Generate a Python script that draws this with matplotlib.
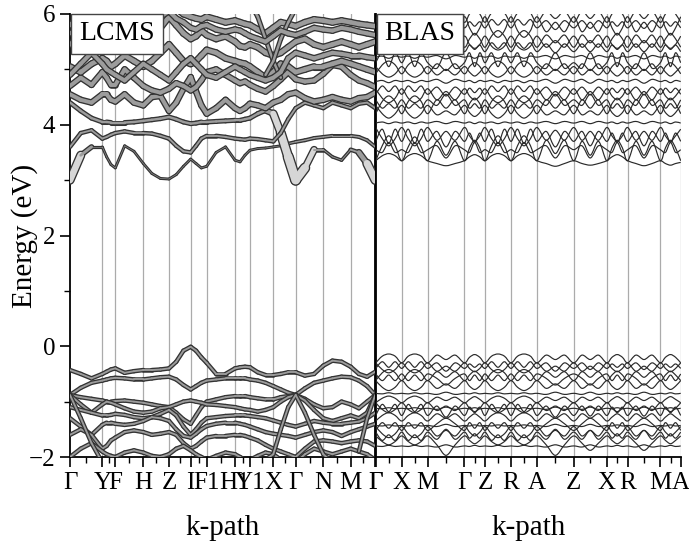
import numpy as np
import matplotlib
matplotlib.use("Agg")
import matplotlib.pyplot as plt
from matplotlib.collections import LineCollection
from matplotlib.path import Path
from matplotlib.patches import PathPatch
from matplotlib.ticker import FixedLocator, MultipleLocator

plt.rcParams['font.family'] = ['Liberation Serif', 'DejaVu Serif']

nan = np.nan

# ---------------- high-symmetry paths ----------------
lcms_nodes = [0, 32.3, 45.3, 73.3, 99, 120.7, 136.7, 165, 180, 203.3, 225.7, 253.3, 280.7, 305.3]
lcms_labels = ['Γ', 'Y', 'F', 'H', 'Z', 'I', 'F1', 'H1', 'Y1', 'X', 'Γ', 'N', 'M', 'Γ']
blas_nodes = [0, 26, 52, 88.6, 109.3, 135.3, 161.3, 198, 231, 252, 284.6, 305]
blas_labels = ['Γ', 'X', 'M', 'Γ', 'Z', 'R', 'A', 'Z', 'X', 'R', 'M', 'A']

# ---------------- LCMS bands (3 samples per segment, 40 points) ----------------
lcms_c1 = [3.00, 3.45, 3.60, 3.60, 3.42, 3.28, 3.22, 3.62, 3.52, 3.30,
           3.12, 3.03, 3.02, 3.10, 3.25, 3.38, 3.30, 3.22, 3.25, 3.50,
           3.60, 3.36, 3.33, 3.45, 3.54, 3.57, 3.58, 3.60, 3.62, 3.66,
           3.69, 3.72, 3.76, 3.78, 3.80, 3.80, 3.80, 3.78, 3.72, 3.60]
lcms_c1_w = [9, 6, 2, 1.5, 1.5, 1.5, 1.5, 1.5, 1.5, 1.5,
             1.5, 1.5, 1.5, 1.5, 1.5, 1.5, 1.5, 1.5, 1.5, 1.5,
             1.5, 1.5, 1.5, 1.5, 1.5, 1.5, 1.5, 1.5, 1.5, 2,
             2.5, 2.5, 2.5, 2.5, 2.5, 2.5, 2.5, 2.5, 2.5, 2.5]
lcms_c2 = [4.40, 4.25, 4.12, 4.05, 4.05, 4.04, 4.04, 4.04, 4.05, 4.07,
           4.09, 4.11, 4.14, 4.10, 4.05, 4.02, 4.03, 4.05, 4.05, 4.06,
           4.07, 4.08, 4.08, 4.10, 4.12, 4.20, 4.26, 4.20, 3.85, 3.42,
           3.00, 3.22, 3.55, 3.55, 3.42, 3.36, 3.55, 3.50, 3.30, 3.00]
lcms_c2_w = [3.5, 3.5, 3.5, 3.5, 3.5, 3.5, 3.5, 3.5, 3.5, 3.5,
             3.5, 3.5, 3.5, 3.5, 3.5, 3.5, 3.5, 3.5, 3.5, 3.5,
             3.5, 3.5, 3.5, 3.5, 3.5, 3.5, 4, 6, 8, 9,
             10, 8, 4, 2, 2, 2, 2, 4, 7, 9]
lcms_c3 = [3.60, 3.85, 3.90, 3.75, 3.78, 3.82, 3.85, 3.88, 3.85, 3.85,
           3.84, 3.80, 3.75, 3.62, 3.52, 3.50, 3.62, 3.75, 3.80, 3.80,
           3.78, 3.75, 3.74, 3.73, 3.75, 3.74, 3.72, 3.70, 3.85, 4.10,
           4.30, 4.40, 4.35, 4.30, 4.40, 4.35, 4.30, 4.38, 4.40, 4.30]
lcms_c4 = [4.55, 4.45, 4.40, 4.55, 4.55, 4.45, 4.42, 4.55, 4.40, 4.35,
           4.50, 4.52, 4.25, 4.40, 4.65, 4.86, 4.60, 4.35, 4.20, 4.30,
           4.45, 4.30, 4.25, 4.30, 4.38, 4.35, 4.30, 4.40, 4.45, 4.55,
           4.58, 4.48, 4.42, 4.45, 4.50, 4.45, 4.42, 4.48, 4.50, 4.58]
lcms_c5 = [4.70, 4.85, 4.72, 4.95, 4.85, 4.72, 4.72, 5.00, 4.85, 4.70,
           4.62, 4.58, 4.65, 4.75, 4.70, 4.62, 4.68, 4.80, 4.95, 5.00,
           4.90, 4.80, 4.75, 4.78, 4.72, 4.65, 4.60, 4.70, 4.82, 4.95,
           4.82, 4.78, 4.80, 4.92, 5.08, 5.05, 4.90, 4.80, 4.75, 4.68]
lcms_c6 = [5.05, 4.95, 5.10, 5.20, 5.15, 5.05, 5.10, 5.25, 5.15, 5.05,
           5.15, 5.30, 5.45, 5.30, 5.15, 5.10, 5.15, 5.25, 5.35, 5.30,
           5.20, 5.15, 5.12, 5.10, 5.05, 4.95, 4.85, 4.95, 5.10, 5.05,
           4.95, 5.00, 5.05, 5.05, 5.10, 5.15, 5.10, 5.05, 5.00, 4.95]
lcms_c7 = [5.45, 5.60, 5.45, 5.35, 5.45, 5.55, 5.50, 5.60, 5.50, 5.40,
           5.55, 5.75, 5.95, 5.80, 5.65, 5.55, 5.60, 5.70, 5.62, 5.55,
           5.60, 5.50, 5.42, 5.40, 5.45, 5.40, 5.30, 5.25, 5.30, 5.40,
           5.50, 5.55, 5.45, 5.40, 5.45, 5.50, 5.45, 5.40, 5.45, 5.50]
lcms_c8 = [5.80, 5.95, 6.05, 5.90, 5.85, 5.90, 5.95, 5.90, 5.85, 5.90,
           6.00, 6.10, 6.20, 6.10, 6.00, 5.95, 5.92, 5.90, 5.95, 5.90,
           5.85, 5.88, 5.85, 5.82, 5.80, 5.72, 5.65, 5.75, 5.85, 5.82,
           5.78, 5.85, 5.90, 5.88, 5.85, 5.88, 5.85, 5.82, 5.80, 5.78]
lcms_c9 = [nan, nan, nan, nan, nan, nan, nan, nan, nan, nan,
           nan, nan, nan, nan, nan, nan, nan, nan, nan, nan,
           nan, nan, nan, nan, 6.20, 5.95, 5.55, 5.15, 4.85, nan,
           nan, nan, nan, nan, nan, nan, nan, nan, nan, nan]
lcms_c10 = [nan, nan, nan, nan, nan, nan, nan, nan, nan, nan,
            nan, nan, nan, nan, nan, nan, nan, nan, nan, nan,
            nan, nan, nan, nan, nan, nan, 4.90, 5.15, 5.55, 5.85,
            6.10, nan, nan, nan, nan, nan, nan, nan, nan, nan]
lcms_c11 = [4.90, 5.10, 5.30, 5.10, 5.00, 4.95, 4.90, 4.80, 4.95, 5.10,
            5.00, 4.90, 4.80, 4.95, 5.10, 5.20, 5.10, 5.00, 4.90, 4.85,
            4.95, 5.05, 5.00, 4.95, 4.90, 4.85, 4.80, 4.85, 4.95, 5.20,
            5.30, 5.25, 5.20, 5.25, 5.30, 5.28, 5.25, 5.25, 5.22, 5.20]
lcms_c12 = [5.65, 5.75, 5.85, 5.70, 5.65, 5.72, 5.80, 5.75, 5.65, 5.70,
            5.85, 5.95, 6.05, 5.92, 5.85, 5.75, 5.72, 5.78, 5.80, 5.72,
            5.68, 5.72, 5.70, 5.65, 5.60, 5.55, 5.50, 5.60, 5.70, 5.65,
            5.62, 5.68, 5.75, 5.72, 5.70, 5.75, 5.72, 5.68, 5.65, 5.62]

lcms_v1 = [-0.43, -0.50, -0.58, -0.50, -0.46, -0.42, -0.40, -0.48, -0.45, -0.43,
           -0.43, -0.42, -0.40, -0.28, -0.08, -0.01, -0.08, -0.20, -0.30, -0.50,
           -0.50, -0.40, -0.38, -0.37, -0.38, -0.47, -0.52, -0.52, -0.50, -0.47,
           -0.47, -0.53, -0.50, -0.35, -0.26, -0.28, -0.37, -0.50, -0.55, -0.46]
lcms_v2 = [-0.88, -0.75, -0.66, -0.62, -0.60, -0.58, -0.57, -0.58, -0.60, -0.60,
           -0.58, -0.56, -0.55, -0.60, -0.70, -0.78, -0.72, -0.66, -0.62, -0.60,
           -0.58, -0.58, -0.58, -0.58, -0.60, -0.62, -0.66, -0.72, -0.78, -0.84,
           -0.88, -0.76, -0.66, -0.62, -0.58, -0.55, -0.56, -0.62, -0.72, -0.88]
lcms_v3 = [-0.88, -0.92, -0.95, -0.98, -1.00, -1.00, -0.99, -0.98, -1.00, -1.02,
           -1.05, -1.08, -1.10, -1.20, -1.32, -1.40, -1.25, -1.10, -1.00, -0.96,
           -0.92, -0.90, -0.90, -0.90, -0.92, -0.94, -0.96, -0.96, -0.92, -0.90,
           -0.88, -0.95, -1.05, -1.12, -1.10, -1.00, -1.05, -1.12, -1.00, -0.88]
lcms_v4 = [-0.88, -1.05, -1.20, -1.05, -1.00, -1.02, -1.05, -1.12, -1.18, -1.20,
           -1.18, -1.12, -1.10, -1.05, -1.00, -0.98, -1.00, -1.02, -1.05, -1.06,
           -1.08, -1.10, -1.12, -1.14, -1.15, -1.18, -1.15, -1.10, -1.00, -0.92,
           -0.88, -0.98, -1.15, -1.30, -1.35, -1.30, -1.25, -1.30, -1.20, -0.88]
lcms_v5 = [-1.10, -1.15, -1.20, -1.25, -1.25, -1.24, -1.22, -1.24, -1.28, -1.30,
           -1.28, -1.22, -1.15, -1.25, -1.45, -1.60, -1.50, -1.38, -1.30, -1.28,
           -1.26, -1.25, -1.25, -1.25, -1.26, -1.28, -1.30, -1.34, -1.38, -1.42,
           -1.45, -1.40, -1.35, -1.38, -1.40, -1.40, -1.38, -1.36, -1.30, -1.20]
lcms_v6 = [-1.30, -1.45, -1.60, -1.42, -1.38, -1.38, -1.40, -1.42, -1.40, -1.35,
           -1.28, -1.30, -1.35, -1.50, -1.62, -1.65, -1.58, -1.50, -1.44, -1.40,
           -1.38, -1.38, -1.40, -1.42, -1.45, -1.50, -1.55, -1.58, -1.60, -1.62,
           -1.65, -1.60, -1.55, -1.52, -1.55, -1.62, -1.55, -1.50, -1.45, -1.40]
lcms_v7 = [-1.60, -1.50, -1.60, -1.85, -1.80, -1.70, -1.65, -1.55, -1.52, -1.55,
           -1.60, -1.58, -1.55, -1.60, -1.75, -1.85, -1.80, -1.72, -1.65, -1.62,
           -1.62, -1.60, -1.60, -1.62, -1.65, -1.70, -1.78, -1.85, -1.90, -1.95,
           -2.00, -1.85, -1.72, -1.70, -1.72, -1.75, -1.72, -1.70, -1.72, -1.80]
lcms_v8 = [-2.00, -1.85, -1.75, -1.90, -1.95, -1.98, -2.00, -1.92, -1.88, -1.92,
           -1.98, -2.00, -1.95, -1.85, -1.80, -1.88, -1.95, -2.00, -2.05, -1.98,
           -1.92, -1.95, -2.00, -2.05, -2.05, -1.98, -1.92, -1.95, -2.05, -2.10,
           -2.10, -1.95, -1.85, -1.90, -1.95, -1.90, -1.85, -1.90, -1.95, -2.05]
lcms_v9 = [-0.88, -1.30, -1.75, -2.10, nan, nan, nan, nan, nan, nan,
           nan, nan, nan, nan, nan, nan, nan, nan, nan, nan,
           nan, nan, nan, nan, nan, -2.20, -2.05, -1.95, -1.50, -1.10,
           -0.88, -1.20, -1.60, -1.95, -2.10, nan, nan, -1.90, -1.30, -0.88]

lcms_bands = [
    (lcms_c1, lcms_c1_w), (lcms_c2, lcms_c2_w), (lcms_c3, 3), (lcms_c4, 5),
    (lcms_c5, 5), (lcms_c6, 5.5), (lcms_c7, 5.5), (lcms_c8, 5.5), (lcms_c9, 3.5),
    (lcms_c10, 3.5), (lcms_c11, 5), (lcms_c12, 5),
    (lcms_v1, 3), (lcms_v2, 3), (lcms_v3, 3), (lcms_v4, 3), (lcms_v5, 3),
    (lcms_v6, 3), (lcms_v7, 3), (lcms_v8, 3), (lcms_v9, 3),
]

# ---------------- BLAS bands (4 samples per segment, 45 points) ----------------
blas_c = [
    [3.35, 3.62, 3.80, 3.62, 3.35, 3.60, 3.78, 3.60, 3.35, 3.70, 3.45, 3.70, 3.35,
     3.58, 3.72, 3.58, 3.35, 3.62, 3.80, 3.62, 3.35, 3.62, 3.80, 3.62, 3.35,
     3.72, 3.48, 3.72, 3.35, 3.70, 3.45, 3.70, 3.35, 3.58, 3.72, 3.58, 3.35,
     3.70, 3.45, 3.70, 3.35, 3.58, 3.72, 3.58, 3.35],
    [3.35, 3.44, 3.48, 3.44, 3.35, 3.44, 3.48, 3.44, 3.35, 3.30, 3.26, 3.30, 3.35,
     3.42, 3.46, 3.42, 3.35, 3.44, 3.48, 3.44, 3.35, 3.44, 3.48, 3.44, 3.35,
     3.30, 3.25, 3.30, 3.35, 3.30, 3.27, 3.30, 3.35, 3.42, 3.46, 3.42, 3.35,
     3.30, 3.26, 3.30, 3.35, 3.30, 3.27, 3.30, 3.32],
    [3.55, 3.50, 3.68, 3.50, 3.55, 3.50, 3.68, 3.50, 3.55, 3.62, 3.40, 3.62, 3.55,
     3.50, 3.68, 3.50, 3.55, 3.50, 3.68, 3.50, 3.55, 3.50, 3.68, 3.50, 3.55,
     3.62, 3.40, 3.62, 3.55, 3.62, 3.40, 3.62, 3.55, 3.50, 3.68, 3.50, 3.55,
     3.62, 3.40, 3.62, 3.55, 3.50, 3.68, 3.50, 3.55],
    [3.70, 3.92, 3.66, 3.92, 3.70, 3.92, 3.66, 3.92, 3.70, 3.88, 3.60, 3.88, 3.70,
     3.85, 3.68, 3.85, 3.70, 3.92, 3.66, 3.92, 3.70, 3.92, 3.66, 3.92, 3.70,
     3.88, 3.60, 3.88, 3.70, 3.88, 3.62, 3.88, 3.70, 3.85, 3.68, 3.85, 3.70,
     3.88, 3.62, 3.88, 3.70, 3.85, 3.68, 3.85, 3.70],
    [3.95, 3.75, 3.62, 3.75, 3.95, 3.75, 3.62, 3.75, 3.95, 3.72, 3.88, 3.72, 3.95,
     3.80, 3.70, 3.80, 3.95, 3.75, 3.62, 3.75, 3.95, 3.75, 3.62, 3.75, 3.95,
     3.72, 3.90, 3.72, 3.95, 3.72, 3.88, 3.72, 3.95, 3.80, 3.70, 3.80, 3.95,
     3.72, 3.88, 3.72, 3.95, 3.80, 3.70, 3.80, 3.92],
    [4.03, 4.05, 4.02, 4.05, 4.03, 4.05, 4.02, 4.05, 4.03, 4.06, 4.02, 4.06, 4.03,
     4.05, 4.02, 4.05, 4.03, 4.05, 4.02, 4.05, 4.03, 4.05, 4.02, 4.05, 4.03,
     4.06, 4.02, 4.06, 4.03, 4.06, 4.02, 4.06, 4.03, 4.05, 4.02, 4.05, 4.03,
     4.06, 4.02, 4.06, 4.03, 4.05, 4.02, 4.05, 4.03],
    [4.20, 4.42, 4.52, 4.42, 4.20, 4.42, 4.52, 4.42, 4.20, 4.45, 4.30, 4.45, 4.20,
     4.38, 4.48, 4.38, 4.20, 4.42, 4.52, 4.42, 4.20, 4.42, 4.52, 4.42, 4.20,
     4.45, 4.30, 4.45, 4.20, 4.45, 4.30, 4.45, 4.20, 4.38, 4.48, 4.38, 4.20,
     4.45, 4.30, 4.45, 4.20, 4.38, 4.48, 4.38, 4.20],
    [4.35, 4.20, 4.12, 4.20, 4.35, 4.20, 4.12, 4.20, 4.35, 4.18, 4.25, 4.18, 4.35,
     4.22, 4.15, 4.22, 4.35, 4.20, 4.12, 4.20, 4.35, 4.20, 4.12, 4.20, 4.35,
     4.18, 4.25, 4.18, 4.35, 4.18, 4.25, 4.18, 4.35, 4.22, 4.15, 4.22, 4.35,
     4.18, 4.25, 4.18, 4.35, 4.22, 4.15, 4.22, 4.35],
    [4.45, 4.30, 4.38, 4.30, 4.45, 4.30, 4.38, 4.30, 4.45, 4.35, 4.55, 4.35, 4.45,
     4.30, 4.38, 4.30, 4.45, 4.30, 4.38, 4.30, 4.45, 4.30, 4.38, 4.30, 4.45,
     4.35, 4.55, 4.35, 4.45, 4.35, 4.55, 4.35, 4.45, 4.30, 4.38, 4.30, 4.45,
     4.35, 4.55, 4.35, 4.45, 4.30, 4.38, 4.30, 4.45],
    [4.55, 4.70, 4.60, 4.70, 4.55, 4.70, 4.60, 4.70, 4.55, 4.68, 4.52, 4.68, 4.55,
     4.66, 4.58, 4.66, 4.55, 4.70, 4.60, 4.70, 4.55, 4.70, 4.60, 4.70, 4.55,
     4.68, 4.52, 4.68, 4.55, 4.68, 4.54, 4.68, 4.55, 4.66, 4.58, 4.66, 4.55,
     4.68, 4.54, 4.68, 4.55, 4.66, 4.58, 4.66, 4.55],
    [4.65, 4.48, 4.40, 4.48, 4.65, 4.48, 4.40, 4.48, 4.65, 4.45, 4.60, 4.45, 4.65,
     4.52, 4.45, 4.52, 4.65, 4.48, 4.40, 4.48, 4.65, 4.48, 4.40, 4.48, 4.65,
     4.45, 4.60, 4.45, 4.65, 4.45, 4.60, 4.45, 4.65, 4.52, 4.45, 4.52, 4.65,
     4.45, 4.60, 4.45, 4.65, 4.52, 4.45, 4.52, 4.65],
    [4.78, 4.80, 4.76, 4.80, 4.78, 4.80, 4.76, 4.80, 4.78, 4.82, 4.75, 4.82, 4.78,
     4.80, 4.76, 4.80, 4.78, 4.80, 4.76, 4.80, 4.78, 4.80, 4.76, 4.80, 4.78,
     4.82, 4.75, 4.82, 4.78, 4.82, 4.75, 4.82, 4.78, 4.80, 4.76, 4.80, 4.78,
     4.82, 4.75, 4.82, 4.78, 4.80, 4.76, 4.80, 4.78],
    [4.92, 5.08, 5.15, 5.08, 4.92, 5.08, 5.15, 5.08, 4.92, 5.10, 4.98, 5.10, 4.92,
     5.05, 5.12, 5.05, 4.92, 5.08, 5.15, 5.08, 4.92, 5.08, 5.15, 5.08, 4.92,
     5.10, 4.98, 5.10, 4.92, 5.10, 4.98, 5.10, 4.92, 5.05, 5.12, 5.05, 4.92,
     5.10, 4.98, 5.10, 4.92, 5.05, 5.12, 5.05, 4.92],
    [5.05, 4.92, 4.86, 4.92, 5.05, 4.92, 4.86, 4.92, 5.05, 4.90, 5.00, 4.90, 5.05,
     4.95, 4.88, 4.95, 5.05, 4.92, 4.86, 4.92, 5.05, 4.92, 4.86, 4.92, 5.05,
     4.90, 5.00, 4.90, 5.05, 4.90, 5.00, 4.90, 5.05, 4.95, 4.88, 4.95, 5.05,
     4.90, 5.00, 4.90, 5.05, 4.95, 4.88, 4.95, 5.05],
    [5.12, 5.30, 5.05, 5.30, 5.12, 5.30, 5.05, 5.30, 5.12, 5.02, 5.30, 5.02, 5.12,
     5.30, 5.05, 5.30, 5.12, 5.30, 5.05, 5.30, 5.12, 5.30, 5.05, 5.30, 5.12,
     5.02, 5.30, 5.02, 5.12, 5.02, 5.30, 5.02, 5.12, 5.30, 5.05, 5.30, 5.12,
     5.02, 5.30, 5.02, 5.12, 5.30, 5.05, 5.30, 5.12],
    [5.22, 5.24, 5.20, 5.24, 5.22, 5.24, 5.20, 5.24, 5.22, 5.25, 5.19, 5.25, 5.22,
     5.24, 5.20, 5.24, 5.22, 5.24, 5.20, 5.24, 5.22, 5.24, 5.20, 5.24, 5.22,
     5.25, 5.19, 5.25, 5.22, 5.25, 5.19, 5.25, 5.22, 5.24, 5.20, 5.24, 5.22,
     5.25, 5.19, 5.25, 5.22, 5.24, 5.20, 5.24, 5.22],
    [5.32, 5.48, 5.38, 5.48, 5.32, 5.48, 5.38, 5.48, 5.32, 5.46, 5.30, 5.46, 5.32,
     5.44, 5.36, 5.44, 5.32, 5.48, 5.38, 5.48, 5.32, 5.48, 5.38, 5.48, 5.32,
     5.46, 5.30, 5.46, 5.32, 5.46, 5.32, 5.46, 5.32, 5.44, 5.36, 5.44, 5.32,
     5.46, 5.32, 5.46, 5.32, 5.44, 5.36, 5.44, 5.32],
    [5.40, 5.60, 5.70, 5.60, 5.40, 5.60, 5.70, 5.60, 5.40, 5.62, 5.48, 5.62, 5.40,
     5.55, 5.65, 5.55, 5.40, 5.60, 5.70, 5.60, 5.40, 5.60, 5.70, 5.60, 5.40,
     5.62, 5.48, 5.62, 5.40, 5.62, 5.48, 5.62, 5.40, 5.55, 5.65, 5.55, 5.40,
     5.62, 5.48, 5.62, 5.40, 5.55, 5.65, 5.55, 5.40],
    [5.60, 5.42, 5.35, 5.42, 5.60, 5.42, 5.35, 5.42, 5.60, 5.40, 5.52, 5.40, 5.60,
     5.45, 5.38, 5.45, 5.60, 5.42, 5.35, 5.42, 5.60, 5.42, 5.35, 5.42, 5.60,
     5.40, 5.52, 5.40, 5.60, 5.40, 5.52, 5.40, 5.60, 5.45, 5.38, 5.45, 5.60,
     5.40, 5.52, 5.40, 5.60, 5.45, 5.38, 5.45, 5.60],
    [5.75, 5.90, 5.80, 5.90, 5.75, 5.90, 5.80, 5.90, 5.75, 5.88, 5.72, 5.88, 5.75,
     5.86, 5.78, 5.86, 5.75, 5.90, 5.80, 5.90, 5.75, 5.90, 5.80, 5.90, 5.75,
     5.88, 5.72, 5.88, 5.75, 5.88, 5.74, 5.88, 5.75, 5.86, 5.78, 5.86, 5.75,
     5.88, 5.74, 5.88, 5.75, 5.86, 5.78, 5.86, 5.75],
    [5.95, 5.70, 5.58, 5.70, 5.95, 5.70, 5.58, 5.70, 5.95, 5.68, 5.85, 5.68, 5.95,
     5.75, 5.62, 5.75, 5.95, 5.70, 5.58, 5.70, 5.95, 5.70, 5.58, 5.70, 5.95,
     5.68, 5.85, 5.68, 5.95, 5.68, 5.85, 5.68, 5.95, 5.75, 5.62, 5.75, 5.95,
     5.68, 5.85, 5.68, 5.95, 5.75, 5.62, 5.75, 5.95],
    [5.85, 6.02, 6.10, 6.02, 5.85, 6.02, 6.10, 6.02, 5.85, 6.05, 5.92, 6.05, 5.85,
     6.00, 6.08, 6.00, 5.85, 6.02, 6.10, 6.02, 5.85, 6.02, 6.10, 6.02, 5.85,
     6.05, 5.92, 6.05, 5.85, 6.05, 5.92, 6.05, 5.85, 6.00, 6.08, 6.00, 5.85,
     6.05, 5.92, 6.05, 5.85, 6.00, 6.08, 6.00, 5.85],
]
blas_v = [
    [-0.30, -0.18, -0.14, -0.18, -0.30, -0.18, -0.14, -0.18, -0.30, -0.16, -0.24, -0.16, -0.30,
     -0.20, -0.15, -0.20, -0.30, -0.18, -0.14, -0.18, -0.30, -0.18, -0.14, -0.18, -0.30,
     -0.16, -0.24, -0.16, -0.30, -0.16, -0.24, -0.16, -0.30, -0.20, -0.15, -0.20, -0.30,
     -0.16, -0.24, -0.16, -0.30, -0.20, -0.15, -0.20, -0.30],
    [-0.40, -0.28, -0.38, -0.28, -0.40, -0.28, -0.38, -0.28, -0.40, -0.30, -0.45, -0.30, -0.40,
     -0.32, -0.38, -0.32, -0.40, -0.28, -0.38, -0.28, -0.40, -0.28, -0.38, -0.28, -0.40,
     -0.30, -0.45, -0.30, -0.40, -0.30, -0.42, -0.30, -0.40, -0.32, -0.38, -0.32, -0.40,
     -0.30, -0.42, -0.30, -0.40, -0.32, -0.38, -0.32, -0.40],
    [-0.30, -0.42, -0.48, -0.42, -0.30, -0.42, -0.48, -0.42, -0.30, -0.45, -0.36, -0.45, -0.30,
     -0.40, -0.46, -0.40, -0.30, -0.42, -0.48, -0.42, -0.30, -0.42, -0.48, -0.42, -0.30,
     -0.45, -0.36, -0.45, -0.30, -0.45, -0.36, -0.45, -0.30, -0.40, -0.46, -0.40, -0.30,
     -0.45, -0.36, -0.45, -0.30, -0.40, -0.46, -0.40, -0.30],
    [-0.50, -0.62, -0.52, -0.62, -0.50, -0.62, -0.52, -0.62, -0.50, -0.58, -0.70, -0.58, -0.50,
     -0.62, -0.52, -0.62, -0.50, -0.62, -0.52, -0.62, -0.50, -0.62, -0.52, -0.62, -0.50,
     -0.58, -0.70, -0.58, -0.50, -0.58, -0.70, -0.58, -0.50, -0.62, -0.52, -0.62, -0.50,
     -0.58, -0.70, -0.58, -0.50, -0.62, -0.52, -0.62, -0.50],
    [-0.62, -0.48, -0.42, -0.48, -0.62, -0.48, -0.42, -0.48, -0.62, -0.46, -0.56, -0.46, -0.62,
     -0.52, -0.45, -0.52, -0.62, -0.48, -0.42, -0.48, -0.62, -0.48, -0.42, -0.48, -0.62,
     -0.46, -0.56, -0.46, -0.62, -0.46, -0.56, -0.46, -0.62, -0.52, -0.45, -0.52, -0.62,
     -0.46, -0.56, -0.46, -0.62, -0.52, -0.45, -0.52, -0.62],
    [-0.62, -0.74, -0.80, -0.74, -0.62, -0.74, -0.80, -0.74, -0.62, -0.76, -0.68, -0.76, -0.62,
     -0.72, -0.78, -0.72, -0.62, -0.74, -0.80, -0.74, -0.62, -0.74, -0.80, -0.74, -0.62,
     -0.76, -0.68, -0.76, -0.62, -0.76, -0.68, -0.76, -0.62, -0.72, -0.78, -0.72, -0.62,
     -0.76, -0.68, -0.76, -0.62, -0.72, -0.78, -0.72, -0.62],
    [-0.85, -0.86, -0.84, -0.86, -0.85, -0.86, -0.84, -0.86, -0.85, -0.87, -0.83, -0.87, -0.85,
     -0.86, -0.84, -0.86, -0.85, -0.86, -0.84, -0.86, -0.85, -0.86, -0.84, -0.86, -0.85,
     -0.87, -0.83, -0.87, -0.85, -0.87, -0.83, -0.87, -0.85, -0.86, -0.84, -0.86, -0.85,
     -0.87, -0.83, -0.87, -0.85, -0.86, -0.84, -0.86, -0.85],
    [-1.02, -0.94, -0.90, -0.94, -1.02, -0.94, -0.90, -0.94, -1.02, -0.92, -0.98, -0.92, -1.02,
     -0.96, -0.91, -0.96, -1.02, -0.94, -0.90, -0.94, -1.02, -0.94, -0.90, -0.94, -1.02,
     -0.92, -0.98, -0.92, -1.02, -0.92, -0.98, -0.92, -1.02, -0.96, -0.91, -0.96, -1.02,
     -0.92, -0.98, -0.92, -1.02, -0.96, -0.91, -0.96, -1.02],
    [-1.02, -1.14, -1.20, -1.14, -1.02, -1.14, -1.20, -1.14, -1.02, -1.16, -1.08, -1.16, -1.02,
     -1.12, -1.18, -1.12, -1.02, -1.14, -1.20, -1.14, -1.02, -1.14, -1.20, -1.14, -1.02,
     -1.16, -1.08, -1.16, -1.02, -1.16, -1.08, -1.16, -1.02, -1.12, -1.18, -1.12, -1.02,
     -1.16, -1.08, -1.16, -1.02, -1.12, -1.18, -1.12, -1.02],
    [-1.25, -1.05, -1.18, -1.05, -1.25, -1.05, -1.18, -1.05, -1.25, -1.08, -1.28, -1.08, -1.25,
     -1.10, -1.20, -1.10, -1.25, -1.05, -1.18, -1.05, -1.25, -1.05, -1.18, -1.05, -1.25,
     -1.08, -1.28, -1.08, -1.25, -1.08, -1.26, -1.08, -1.25, -1.10, -1.20, -1.10, -1.25,
     -1.08, -1.26, -1.08, -1.25, -1.10, -1.20, -1.10, -1.25],
    [-1.12, -1.13, -1.11, -1.13, -1.12, -1.13, -1.11, -1.13, -1.12, -1.14, -1.10, -1.14, -1.12,
     -1.13, -1.11, -1.13, -1.12, -1.13, -1.11, -1.13, -1.12, -1.13, -1.11, -1.13, -1.12,
     -1.14, -1.10, -1.14, -1.12, -1.14, -1.10, -1.14, -1.12, -1.13, -1.11, -1.13, -1.12,
     -1.14, -1.10, -1.14, -1.12, -1.13, -1.11, -1.13, -1.12],
    [-1.35, -1.25, -1.20, -1.25, -1.35, -1.25, -1.20, -1.25, -1.35, -1.22, -1.30, -1.22, -1.35,
     -1.28, -1.22, -1.28, -1.35, -1.25, -1.20, -1.25, -1.35, -1.25, -1.20, -1.25, -1.35,
     -1.22, -1.30, -1.22, -1.35, -1.22, -1.30, -1.22, -1.35, -1.28, -1.22, -1.28, -1.35,
     -1.22, -1.30, -1.22, -1.35, -1.28, -1.22, -1.28, -1.35],
    [-1.43, -1.44, -1.42, -1.44, -1.43, -1.44, -1.42, -1.44, -1.43, -1.45, -1.41, -1.45, -1.43,
     -1.44, -1.42, -1.44, -1.43, -1.44, -1.42, -1.44, -1.43, -1.44, -1.42, -1.44, -1.43,
     -1.45, -1.41, -1.45, -1.43, -1.45, -1.41, -1.45, -1.43, -1.44, -1.42, -1.44, -1.43,
     -1.45, -1.41, -1.45, -1.43, -1.44, -1.42, -1.44, -1.43],
    [-1.45, -1.58, -1.65, -1.58, -1.45, -1.58, -1.65, -1.58, -1.45, -1.62, -1.52, -1.62, -1.45,
     -1.55, -1.62, -1.55, -1.45, -1.58, -1.65, -1.58, -1.45, -1.58, -1.65, -1.58, -1.45,
     -1.62, -1.52, -1.62, -1.45, -1.62, -1.52, -1.62, -1.45, -1.55, -1.62, -1.55, -1.45,
     -1.62, -1.52, -1.62, -1.45, -1.55, -1.62, -1.55, -1.45],
    [-1.52, -1.38, -1.48, -1.38, -1.52, -1.38, -1.48, -1.38, -1.52, -1.40, -1.30, -1.40, -1.52,
     -1.38, -1.48, -1.38, -1.52, -1.38, -1.48, -1.38, -1.52, -1.38, -1.48, -1.38, -1.52,
     -1.40, -1.30, -1.40, -1.52, -1.40, -1.30, -1.40, -1.52, -1.38, -1.48, -1.38, -1.52,
     -1.40, -1.30, -1.40, -1.52, -1.38, -1.48, -1.38, -1.52],
    [-1.55, -1.70, -1.60, -1.70, -1.55, -1.70, -1.60, -1.70, -1.55, -1.68, -1.50, -1.68, -1.55,
     -1.66, -1.58, -1.66, -1.55, -1.70, -1.60, -1.70, -1.55, -1.70, -1.60, -1.70, -1.55,
     -1.68, -1.50, -1.68, -1.55, -1.68, -1.52, -1.68, -1.55, -1.66, -1.58, -1.66, -1.55,
     -1.68, -1.52, -1.68, -1.55, -1.66, -1.58, -1.66, -1.55],
    [-1.62, -1.72, -1.78, -1.72, -1.62, -1.72, -1.78, -1.72, -1.62, -1.78, -1.97, -1.78, -1.62,
     -1.70, -1.76, -1.70, -1.62, -1.72, -1.78, -1.72, -1.62, -1.72, -1.78, -1.72, -1.62,
     -1.78, -1.97, -1.78, -1.62, -1.75, -1.88, -1.75, -1.62, -1.70, -1.76, -1.70, -1.62,
     -1.75, -1.88, -1.75, -1.62, -1.70, -1.76, -1.70, -1.62],
    [-1.80, -1.81, -1.79, -1.81, -1.80, -1.81, -1.79, -1.81, -1.80, -1.82, -1.78, -1.82, -1.80,
     -1.81, -1.79, -1.81, -1.80, -1.81, -1.79, -1.81, -1.80, -1.81, -1.79, -1.81, -1.80,
     -1.82, -1.78, -1.82, -1.80, -1.82, -1.78, -1.82, -1.80, -1.81, -1.79, -1.81, -1.80,
     -1.82, -1.78, -1.82, -1.80, -1.81, -1.79, -1.81, -1.80],
]


def path_samples(nodes, per_seg):
    """k coordinates: each path segment sampled at per_seg equal steps."""
    ks = []
    for a, b in zip(nodes[:-1], nodes[1:]):
        ks.extend(np.linspace(a, b, per_seg, endpoint=False))
    ks.append(nodes[-1])
    return np.array(ks)


def smooth_line(ax, k, e, **kw):
    """Draw a band as a Catmull-Rom Bezier curve through its sample points."""
    p = np.column_stack([k, e])
    n = len(p)
    verts = [p[0]]
    codes = [Path.MOVETO]
    for i in range(n - 1):
        p0 = p[i - 1] if i > 0 else p[i]
        p3 = p[i + 2] if i + 2 < n else p[i + 1]
        verts += [p[i] + (p[i + 1] - p0) / 6, p[i + 1] - (p3 - p[i]) / 6, p[i + 1]]
        codes += [Path.CURVE4] * 3
    ax.add_patch(PathPatch(Path(verts, codes), fill=False, **kw))


def fat_band(ax, k, e, w):
    e = np.asarray(e, float)
    w = np.broadcast_to(np.asarray(w, float), e.shape)
    pts = np.column_stack([k, e])
    segs = np.stack([pts[:-1], pts[1:]], axis=1)
    ok = np.isfinite(segs).all(axis=(1, 2))
    segs = segs[ok]
    lw = ((w[:-1] + w[1:]) / 2)[ok]
    outer = lw * 0.75 + 1.0
    inner = np.clip(outer - 1.9, 0.4, None)
    inner_col = ['#d6d6d6' if v >= 6 else '#9c9c9c' for v in lw]
    ax.add_collection(LineCollection(segs, linewidths=outer, colors='#333333',
                                     capstyle='round', joinstyle='round', zorder=3))
    ax.add_collection(LineCollection(segs, linewidths=inner, colors=inner_col,
                                     capstyle='round', joinstyle='round', zorder=3))


fig = plt.figure(figsize=(6.89, 5.43), dpi=100)
W, H = 689, 543
ax1 = fig.add_axes([70 / W, 1 - 457 / H, 305.3 / W, 443 / H])
ax2 = fig.add_axes([375.7 / W, 1 - 457 / H, 305 / W, 443 / H], sharey=ax1)

k1 = path_samples(lcms_nodes, 3)
for e, w in lcms_bands:
    fat_band(ax1, k1, e, w)

k2 = path_samples(blas_nodes, 4)
for e in blas_c + blas_v:
    smooth_line(ax2, k2, e, edgecolor='#2a2a2a', lw=0.85, zorder=3)

box_x = {'LCMS': 0.154, 'BLAS': 0.145}
for ax, nodes, labels, name in [(ax1, lcms_nodes, lcms_labels, 'LCMS'),
                                (ax2, blas_nodes, blas_labels, 'BLAS')]:
    ax.set_xlim(nodes[0], nodes[-1])
    for x in nodes[1:]:
        ax.axvline(x, color='#ababab', lw=0.9, zorder=1)
    ax.xaxis.set_major_locator(FixedLocator(nodes))
    ax.set_xticklabels(labels)
    mids = [(a + b) / 2 for a, b in zip(nodes[:-1], nodes[1:])]
    ax.xaxis.set_minor_locator(FixedLocator(mids))
    ax.tick_params(axis='x', which='major', direction='out', length=7, width=1.2,
                   labelsize=18, pad=4)
    ax.tick_params(axis='x', which='minor', direction='out', length=4, width=1.0)
    ax.spines['top'].set_visible(False)
    ax.set_xlabel('k-path', fontsize=21, labelpad=15)
    for s in ax.spines.values():
        s.set_linewidth(1.3)
    ax.text(box_x[name], 0.955, name, transform=ax.transAxes, fontsize=20,
            ha='center', va='center',
            bbox=dict(boxstyle='square,pad=0.28', fc='white', ec='#444444', lw=1.0),
            zorder=10)

ax2.spines['right'].set_visible(False)

ax1.set_ylim(-2, 6)
ax1.yaxis.set_major_locator(MultipleLocator(2))
ax1.yaxis.set_minor_locator(MultipleLocator(1))
ax1.tick_params(axis='y', which='major', direction='out', length=7, width=1.2, labelsize=18)
ax1.tick_params(axis='y', which='minor', direction='out', length=4, width=1.0)
ax1.set_ylabel('Energy (eV)', fontsize=21)
ax1.yaxis.set_label_coords(-0.105, 0.5)
ax2.tick_params(axis='y', which='both', left=False, labelleft=False)

fig.savefig('out.png', dpi=100)
